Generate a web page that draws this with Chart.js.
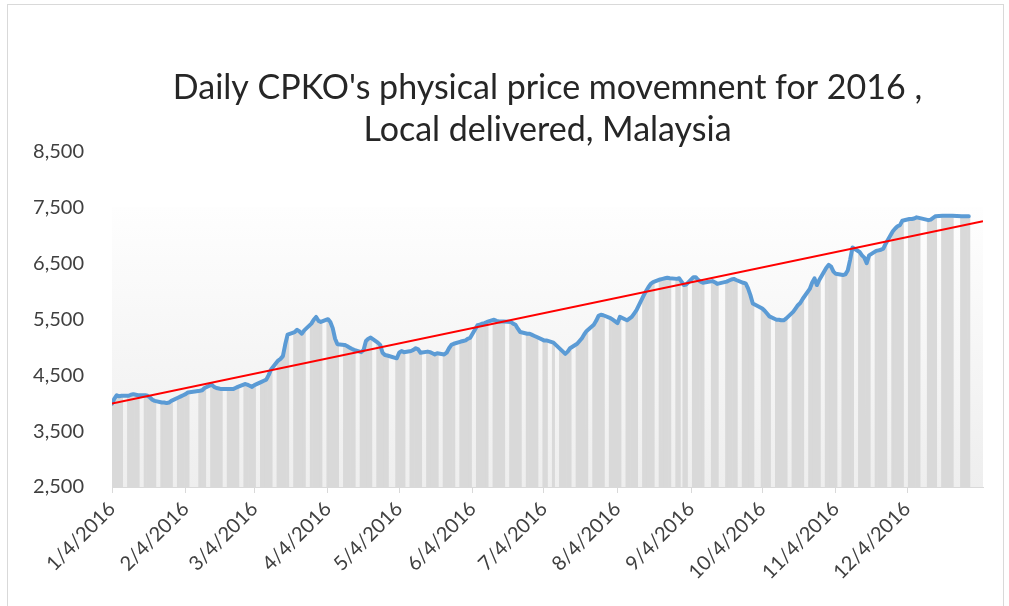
<!DOCTYPE html>
<html>
<head>
<meta charset="utf-8">
<title>Daily CPKO physical price 2016</title>
<script src="https://cdn.jsdelivr.net/npm/chart.js@4.4.0/dist/chart.umd.min.js"></script>
<style>
    html, body { margin: 0; padding: 0; background: #fff; overflow: hidden; }
    #wrap { position: relative; width: 1009px; height: 606px; overflow: hidden; }
    #frame { position: absolute; left: 7px; top: 4px; width: 995px; height: 640px; border: 1px solid #d9d9d9; pointer-events: none; }
</style>
</head>
<body>
<div id="wrap">
    <canvas id="chart" width="1009" height="606"></canvas>
    <div id="frame"></div>
</div>
<script>
// ── Data (RM/tonne) ──
const FIRST_DAY = '2016-01-04';
const HOLIDAYS = ['2016-02-08', '2016-02-09', '2016-05-02', '2016-07-06', '2016-07-07', '2016-08-31',
                  '2016-09-12', '2016-09-16', '2016-10-03', '2016-12-12', '2016-12-26'];

const JAN_PRICES = [3990, 4080, 4140, 4120, 4130, 4130, 4150, 4160, 4150, 4140, 4140, 4130, 4100, 4060, 4040, 4010, 4010, 4000, 4010, 4040];
const FEB_PRICES = [4100, 4120, 4140, 4160, 4190, 4220, 4230, 4270, 4330, 4290, 4270, 4260, 4250, 4250, 4250, 4250, 4270, 4290, 4340];
const MAR_PRICES = [4330, 4310, 4290, 4320, 4380, 4400, 4420, 4500, 4600, 4760, 4790, 4840, 5050, 5225, 5270, 5310, 5280, 5240, 5300, 5420, 5490, 5540, 5470];
const APR_PRICES = [5450, 5500, 5450, 5340, 5150, 5050, 5040, 5020, 4995, 4970, 4950, 4910, 4950, 5110, 5150, 5170, 5080, 5040, 4900, 4860, 4850];
const MAY_PRICES = [4800, 4900, 4930, 4910, 4930, 4950, 4980, 4960, 4900, 4920, 4910, 4890, 4870, 4890, 4870, 4900, 4980, 5040, 5060, 5100, 5110];
const JUN_PRICES = [5120, 5150, 5170, 5390, 5400, 5420, 5430, 5450, 5490, 5470, 5460, 5460, 5460, 5450, 5420, 5400, 5330, 5270, 5240, 5240, 5220, 5200];
const JUL_PRICES = [5180, 5120, 5120, 5080, 4960, 4920, 4880, 4920, 4980, 5060, 5110, 5160, 5230, 5290, 5400, 5470, 5560, 5580, 5570];
const AUG_PRICES = [5520, 5490, 5460, 5430, 5540, 5480, 5510, 5540, 5600, 5660, 5920, 6000, 6070, 6130, 6160, 6210, 6220, 6230, 6240, 6230, 6220, 6230];
const SEP_PRICES = [6110, 6120, 6250, 6250, 6200, 6170, 6150, 6180, 6160, 6130, 6170, 6190, 6210, 6220, 6200, 6150, 6140, 6050, 5930, 5780];
const OCT_PRICES = [5690, 5650, 5600, 5550, 5490, 5490, 5480, 5480, 5510, 5630, 5690, 5750, 5790, 5860, 6040, 6150, 6230, 6110, 6200, 6420];
const NOV_PRICES = [6470, 6440, 6350, 6310, 6290, 6300, 6370, 6560, 6780, 6700, 6640, 6600, 6500, 6640, 6720, 6730, 6740, 6760, 6850, 7070, 7120, 7160];
const DEC_PRICES = [7180, 7260, 7290, 7290, 7300, 7320, 7310, 7270, 7280, 7310, 7340, 7350, 7350, 7350, 7350, 7350, 7340, 7340, 7340, 7340];

const MONTH_PRICES = [JAN_PRICES, FEB_PRICES, MAR_PRICES, APR_PRICES, MAY_PRICES, JUN_PRICES,
                      JUL_PRICES, AUG_PRICES, SEP_PRICES, OCT_PRICES, NOV_PRICES, DEC_PRICES];

const TICK_LABELS = ['1/4/2016', '2/4/2016', '3/4/2016', '4/4/2016', '5/4/2016', '6/4/2016',
                     '7/4/2016', '8/4/2016', '9/4/2016', '10/4/2016', '11/4/2016', '12/4/2016'];

// Linear trendline (Excel), with a few days forecast forward
const TREND_DATES = ['2016-01-04', '2017-01-05'];
const TREND_VALUES = [3990, 7250];

const Y_MIN = 2500, Y_MAX = 8500, Y_STEP = 1000;
const SHADE_FROM = 7500;

// ── Helpers ──
const DAY_MS = 86400000;
function dayIndex(iso) {
    const [y, m, d] = iso.split('-').map(Number);
    return (Date.UTC(y, m - 1, d) - Date.parse(FIRST_DAY + 'T00:00:00Z')) / DAY_MS;
}
function labelToIso(label) {
    const [m, d, y] = label.split('/').map(Number);
    return `${y}-${String(m).padStart(2, '0')}-${String(d).padStart(2, '0')}`;
}
function tradingDays(year, month) {
    const out = [];
    const last = new Date(Date.UTC(year, month, 0)).getUTCDate();
    for (let d = 1; d <= last; d++) {
        const dt = new Date(Date.UTC(year, month - 1, d));
        const iso = dt.toISOString().slice(0, 10);
        const wd = dt.getUTCDay();
        if (wd === 0 || wd === 6 || iso < FIRST_DAY || HOLIDAYS.includes(iso)) continue;
        out.push(iso);
    }
    return out;
}

const points = [];
MONTH_PRICES.forEach((prices, i) => {
    const days = tradingDays(2016, i + 1);
    if (days.length !== prices.length) console.warn('month', i + 1, days.length, prices.length);
    prices.forEach((v, k) => points.push({ x: dayIndex(days[k]), y: v }));
});
const trendPoints = TREND_DATES.map((d, i) => ({ x: dayIndex(d), y: TREND_VALUES[i] }));
const tickValues = TICK_LABELS.map(l => dayIndex(labelToIso(l)));
const tickText = {};
tickValues.forEach((v, i) => { tickText[v] = TICK_LABELS[i]; });

// ── Plot shading ──
const shadePlugin = {
    id: 'shade',
    beforeDatasetsDraw(chart) {
        const { ctx, chartArea, scales } = chart;
        const top = scales.y.getPixelForValue(SHADE_FROM);
        const g = ctx.createLinearGradient(0, top, 0, chartArea.bottom);
        g.addColorStop(0, '#fefefe');
        g.addColorStop(1, '#eeeeee');
        ctx.save();
        ctx.fillStyle = g;
        ctx.fillRect(chartArea.left, top, chartArea.right - chartArea.left, chartArea.bottom - top);
        ctx.restore();
    }
};

const FONT = "Lato, 'Open Sans', sans-serif";

new Chart(document.getElementById('chart'), {
    type: 'bar',
    data: {
        datasets: [
            {
                type: 'line',
                label: 'Trend',
                data: trendPoints,
                borderColor: '#ff0000',
                borderWidth: 2,
                pointRadius: 0,
                order: 1
            },
            {
                type: 'line',
                label: 'Price',
                data: points,
                borderColor: '#5b9bd5',
                borderWidth: 4,
                pointRadius: 0,
                tension: 0,
                borderJoinStyle: 'round',
                borderCapStyle: 'round',
                order: 2
            },
            {
                type: 'bar',
                label: 'Price bars',
                data: points,
                backgroundColor: '#d9d9d9',
                borderWidth: 0,
                barPercentage: 1,
                categoryPercentage: 1,
                order: 3
            }
        ]
    },
    options: {
        responsive: false,
        animation: false,
        events: [],
        layout: { padding: { left: 0, right: 26, top: 0, bottom: 0 } },
        scales: {
            x: {
                type: 'linear',
                offset: false,
                min: 0,
                max: trendPoints[1].x,
                afterBuildTicks: axis => { axis.ticks = tickValues.map(v => ({ value: v })); },
                afterFit: axis => { axis.height = 119; },
                grid: { display: true, offset: false, drawOnChartArea: false, drawTicks: true, tickLength: 6, color: '#d9d9d9' },
                border: { display: true, color: '#d9d9d9', width: 1 },
                ticks: {
                    autoSkip: false,
                    minRotation: 45,
                    maxRotation: 45,
                    padding: 4,
                    color: '#404040',
                    font: { family: FONT, size: 20 },
                    callback: v => tickText[v]
                }
            },
            y: {
                min: Y_MIN,
                max: Y_MAX,
                afterFit: axis => { axis.width = 112; },
                grid: { display: false },
                border: { display: false },
                ticks: {
                    stepSize: Y_STEP,
                    padding: 20,
                    color: '#404040',
                    font: { family: FONT, size: 20 },
                    callback: v => v.toLocaleString('en-US')
                }
            }
        },
        plugins: {
            legend: { display: false },
            tooltip: { enabled: false },
            title: {
                display: true,
                fullSize: false,
                text: ["Daily CPKO's physical price movemnent for 2016 ,", 'Local delivered, Malaysia'],
                color: '#262626',
                font: { family: FONT, size: 34, weight: 'normal', lineHeight: 1.24 },
                padding: { top: 67, bottom: 0 }
            }
        }
    },
    plugins: [shadePlugin]
});
</script>
</body>
</html>
